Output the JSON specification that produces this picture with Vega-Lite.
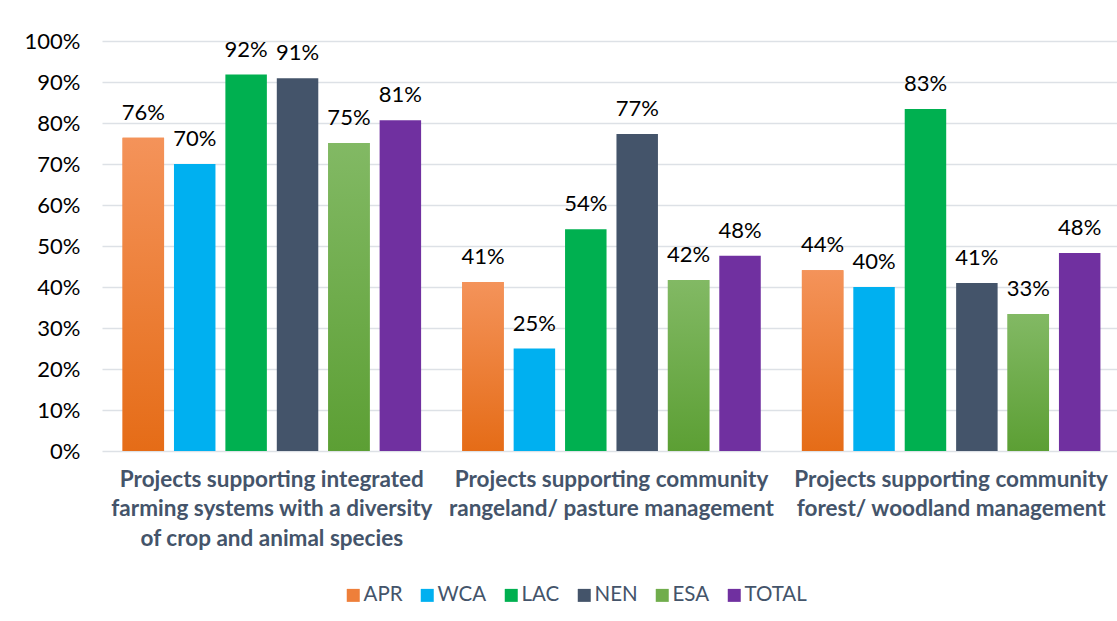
{
  "$schema": "https://vega.github.io/schema/vega-lite/v6.json",
  "width": 1015,
  "height": 410,
  "autosize": "none",
  "padding": {"left": 102, "top": 41, "right": 0, "bottom": 170},
  "background": "white",
  "config": {"view": {"stroke": null}, "font": "Lato"},
  "data": {
    "values": [
      {"category": "Projects supporting integrated|farming systems with a diversity|of crop and animal species", "region": "APR", "value": 0.764},
      {"category": "Projects supporting integrated|farming systems with a diversity|of crop and animal species", "region": "WCA", "value": 0.700},
      {"category": "Projects supporting integrated|farming systems with a diversity|of crop and animal species", "region": "LAC", "value": 0.918},
      {"category": "Projects supporting integrated|farming systems with a diversity|of crop and animal species", "region": "NEN", "value": 0.909},
      {"category": "Projects supporting integrated|farming systems with a diversity|of crop and animal species", "region": "ESA", "value": 0.751},
      {"category": "Projects supporting integrated|farming systems with a diversity|of crop and animal species", "region": "TOTAL", "value": 0.807},
      {"category": "Projects supporting community|rangeland/ pasture management", "region": "APR", "value": 0.412},
      {"category": "Projects supporting community|rangeland/ pasture management", "region": "WCA", "value": 0.250},
      {"category": "Projects supporting community|rangeland/ pasture management", "region": "LAC", "value": 0.541},
      {"category": "Projects supporting community|rangeland/ pasture management", "region": "NEN", "value": 0.773},
      {"category": "Projects supporting community|rangeland/ pasture management", "region": "ESA", "value": 0.417},
      {"category": "Projects supporting community|rangeland/ pasture management", "region": "TOTAL", "value": 0.476},
      {"category": "Projects supporting community|forest/ woodland management", "region": "APR", "value": 0.441},
      {"category": "Projects supporting community|forest/ woodland management", "region": "WCA", "value": 0.400},
      {"category": "Projects supporting community|forest/ woodland management", "region": "LAC", "value": 0.834},
      {"category": "Projects supporting community|forest/ woodland management", "region": "NEN", "value": 0.410},
      {"category": "Projects supporting community|forest/ woodland management", "region": "ESA", "value": 0.334},
      {"category": "Projects supporting community|forest/ woodland management", "region": "TOTAL", "value": 0.483}
    ]
  },
  "encoding": {
    "x": {
      "field": "category",
      "type": "nominal",
      "sort": null,
      "title": null,
      "scale": {"range": [0, 1019], "paddingInner": 0, "paddingOuter": 0},
      "axis": {
        "domain": false,
        "ticks": false,
        "grid": false,
        "labelAngle": 0,
        "labelExpr": "split(datum.label, '|')",
        "labelFont": "Lato",
        "labelFontWeight": "bold",
        "labelFontSize": 22.5,
        "labelColor": "#44546a",
        "labelLineHeight": 29.5,
        "labelPadding": 17,
        "labelBaseline": "top",
        "labelLimit": 400
      }
    },
    "xOffset": {
      "field": "region",
      "type": "nominal",
      "sort": ["APR", "WCA", "LAC", "NEN", "ESA", "TOTAL"],
      "scale": {"paddingInner": 0.193, "paddingOuter": 0.4}
    },
    "y": {
      "field": "value",
      "type": "quantitative",
      "title": null,
      "scale": {"domain": [0, 1], "nice": false},
      "axis": {
        "format": ".0%",
        "values": [0, 0.1, 0.2, 0.3, 0.4, 0.5, 0.6, 0.7, 0.8, 0.9, 1],
        "domain": false,
        "ticks": false,
        "labelFont": "Lato",
        "labelFontSize": 22,
        "labelColor": "#000000",
        "labelPadding": 22,
        "gridColor": "#dde1e6",
        "gridWidth": 1.7
      }
    }
  },
  "layer": [
    {
      "mark": {"type": "bar"},
      "encoding": {
        "color": {
          "field": "region",
          "type": "nominal",
          "sort": ["APR", "WCA", "LAC", "NEN", "ESA", "TOTAL"],
          "scale": {
            "domain": ["APR", "WCA", "LAC", "NEN", "ESA", "TOTAL"],
            "range": ["#ee7f3a", "#00b0f0", "#00b050", "#44546a", "#70ad4c", "#7030a0"]
          },
          "legend": {
            "orient": "none",
            "legendX": 241,
            "legendY": 544,
            "direction": "horizontal",
            "title": null,
            "symbolType": "square",
            "symbolSize": 169,
            "symbolStrokeWidth": 0,
            "symbolOpacity": 1,
            "labelFont": "Lato",
            "labelFontSize": 20.5,
            "labelColor": "#44546a",
            "labelOffset": 0,
            "columnPadding": 14
          }
        }
      }
    },
    {
      "transform": [{"filter": "datum.region === 'APR'"}],
      "mark": {
        "type": "bar",
        "color": {"gradient": "linear", "x1": 0, "y1": 0, "x2": 0, "y2": 1, "stops": [{"offset": 0, "color": "#f4935a"}, {"offset": 1, "color": "#e56c17"}]}
      }
    },
    {
      "transform": [{"filter": "datum.region === 'ESA'"}],
      "mark": {
        "type": "bar",
        "color": {"gradient": "linear", "x1": 0, "y1": 0, "x2": 0, "y2": 1, "stops": [{"offset": 0, "color": "#82b964"}, {"offset": 1, "color": "#5c9f34"}]}
      }
    },
    {
      "mark": {"type": "text", "dy": -18, "baseline": "alphabetic", "fontSize": 22, "font": "Lato", "color": "#000000"},
      "encoding": {
        "text": {"field": "value", "type": "quantitative", "format": ".0%"}
      }
    }
  ]
}
